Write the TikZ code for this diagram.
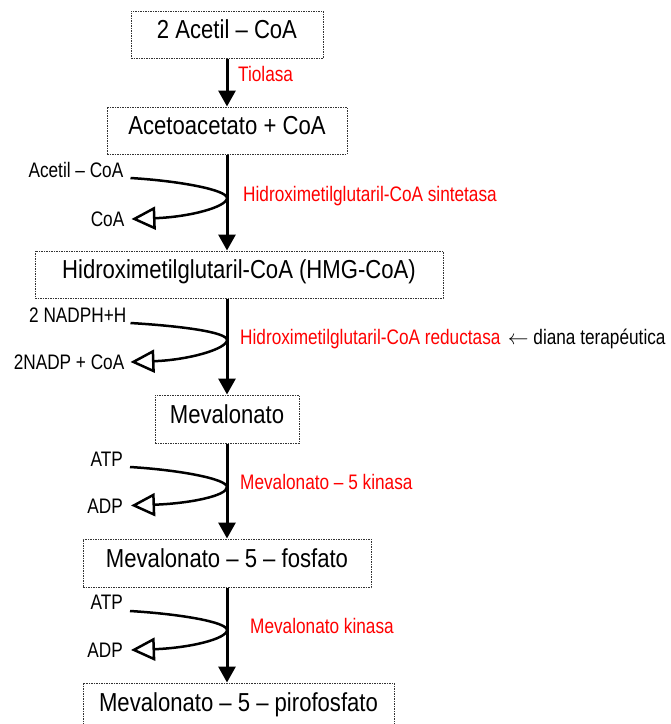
\documentclass[tikz,border=0pt]{standalone}
\usepackage{fontspec}
\setmainfont[FakeStretch=0.82]{Liberation Sans}
\newfontfamily\boxfont[FakeStretch=0.85, Ligatures=TeX]{Liberation Sans}
\usetikzlibrary{arrows.meta, positioning}

\begin{document}
\begin{tikzpicture}[
x=1pt, y=1pt,
compound/.style={
    rectangle,
    draw=black!80,
    line width=1pt,
    dash pattern=on 1.5pt off 1pt,
    inner sep=0pt,
    minimum height=47pt,
    font=\boxfont\fontsize{26}{30}\selectfont,
    text height=18.75pt,
    text depth=10.75pt
},
cofactor/.style={
    inner sep=0pt,
    anchor=east,
    font=\fontsize{21}{25}\selectfont,
    text height=15pt,
    text depth=0pt
},
enzyme/.style={
    inner sep=0pt,
    anchor=west,
    text=red,
    font=\fontsize{21}{25}\selectfont,
    text height=15pt,
    text depth=0pt
},
step arrow/.style={
    -{Triangle[length=16pt,width=17pt]},
    line width=3pt
},
side arrow/.style={
    -{Triangle[open,length=24pt,width=23pt]},
    line width=2.5pt
}
]
\useasboundingbox (0,0) rectangle (671,-724);
\coordinate (axis) at (227,0);

% compounds
\node (acetil) [compound, minimum width=192pt] at (227,-34.5) {2 Acetil -- CoA};
\node (acetoac) [compound, minimum width=240pt] at (227,-130.5) {Acetoacetato + CoA};
\node (hmg) [compound, minimum width=408pt] at (239,-274.5) {Hidroximetilglutaril-CoA (HMG-CoA)};
\node (meva) [compound, minimum width=144pt, minimum height=48pt] at (227,-419) {Mevalonato};
\node (mevap) [compound, minimum width=288pt, minimum height=48pt] at (227,-563) {Mevalonato -- 5 -- fosfato};
\node (mevapp) [compound, minimum width=311pt, minimum height=48pt] at (238.5,-707) {Mevalonato -- 5 -- pirofosfato};

% enzymes
\node (tiolasa) [enzyme] at (238,-73.5) {Tiolasa};
\node (sintetasa) [enzyme] at (243,-193.5) {Hidroximetilglutaril-CoA sintetasa};
\node (reductasa) [enzyme] at (240,-337) {Hidroximetilglutaril-CoA reductasa};
\node (diana) [enzyme, text=black, right=7pt of reductasa] {$\leftarrow$ diana terapéutica};
\node (kinasa5) [enzyme] at (240,-482) {Mevalonato -- 5 kinasa};
\node (kinasa) [enzyme] at (250,-626) {Mevalonato kinasa};

% cofactors
\node (acoain) [cofactor] at (123.5,-170) {Acetil -- CoA};
\node (coaout) [cofactor] at (124.5,-219) {CoA};
\node (nadph) [cofactor] at (126.5,-315) {2 NADPH+H};
\node (nadp) [cofactor] at (124.5,-362) {2NADP + CoA};
\node (atpa) [cofactor] at (123,-459) {ATP};
\node (adpa) [cofactor] at (123,-505.5) {ADP};
\node (atpb) [cofactor] at (123,-602) {ATP};
\node (adpb) [cofactor] at (123,-650) {ADP};

\coordinate (touch1) at (227,-198);
\coordinate (touch2) at (227,-340);
\coordinate (touch3) at (227,-487);
\coordinate (touch4) at (227,-630);

% main pathway
\draw [step arrow] (acetil.south -| axis) -- (acetoac.north -| axis);
\draw [step arrow] (acetoac.south -| axis) -- (hmg.north -| axis);
\draw [step arrow] (hmg.south -| axis) -- (meva.north -| axis);
\draw [step arrow] (meva.south -| axis) -- (mevap.north -| axis);
\draw [step arrow] (mevap.south -| axis) -- (mevapp.north -| axis);

% cofactor loops
\draw [side arrow] ([shift={(7pt,-8pt)}]acoain.east) .. controls +(50,-3) and +(0,8) .. (touch1)
    .. controls +(0,-9) and +(58,2) .. ([xshift=7pt]coaout.east);
\draw [side arrow] ([shift={(4pt,-8pt)}]nadph.east) .. controls +(50,-3) and +(0,8) .. (touch2)
    .. controls +(0,-9) and +(58,2) .. ([xshift=6pt]nadp.east);
\draw [side arrow] ([shift={(7pt,-8pt)}]atpa.east) .. controls +(50,-3) and +(0,8) .. (touch3)
    .. controls +(0,-9) and +(58,2) .. ([xshift=8pt]adpa.east);
\draw [side arrow] ([shift={(7pt,-9pt)}]atpb.east) .. controls +(50,-3) and +(0,8) .. (touch4)
    .. controls +(0,-9) and +(58,2) .. ([xshift=8pt]adpb.east);

\end{tikzpicture}
\end{document}
